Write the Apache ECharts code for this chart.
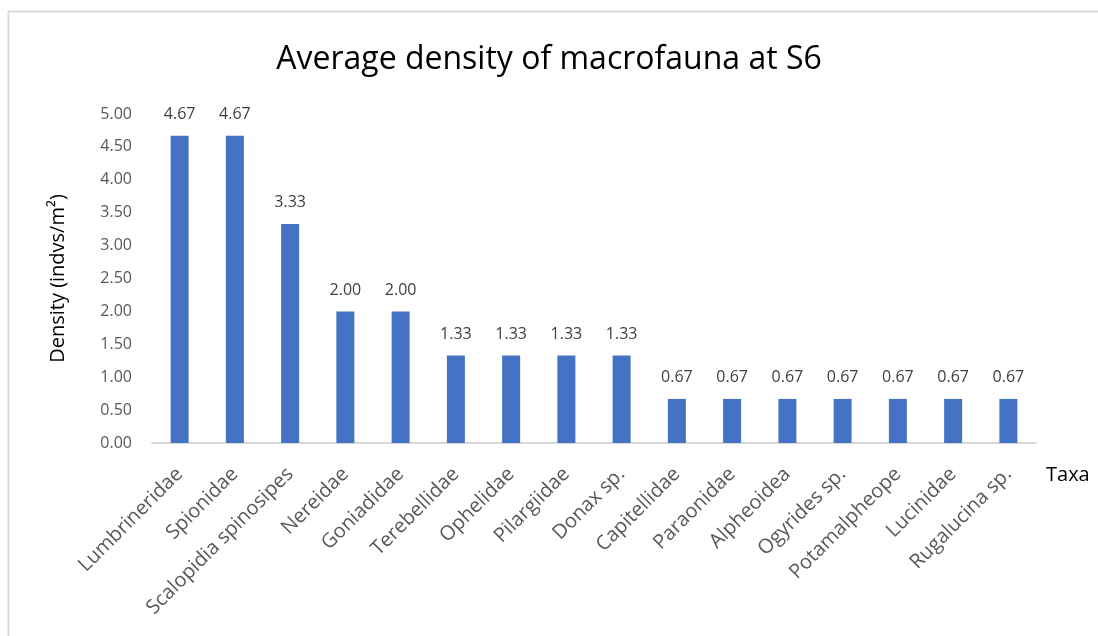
<!DOCTYPE html>
<html>
<head>
<meta charset="utf-8">
<script src="https://cdn.jsdelivr.net/npm/echarts@6/dist/echarts.min.js"></script>
<style>
  html, body { margin: 0; padding: 0; background: #fff; }
  #density { width: 1098px; height: 636px; }
</style>
</head>
<body>
<div id="density"></div>
<script>
var taxa = ['Lumbrineridae', 'Spionidae', 'Scalopidia spinosipes', 'Nereidae', 'Goniadidae',
  'Terebellidae', 'Ophelidae', 'Pilargiidae', 'Donax sp.', 'Capitellidae', 'Paraonidae',
  'Alpheoidea', 'Ogyrides sp.', 'Potamalpheope', 'Lucinidae', 'Rugalucina sp.'];
var density = [4.67, 4.67, 3.33, 2.00, 2.00, 1.33, 1.33, 1.33, 1.33,
  0.67, 0.67, 0.67, 0.67, 0.67, 0.67, 0.67];

var chart = echarts.init(document.getElementById('density'), null, {renderer: 'canvas'});

var font = '"Open Sans", "Noto Sans", sans-serif';

var option = {
  animation: false,
  backgroundColor: '#fff',
  textStyle: { fontFamily: font },
  title: {
    text: 'Average density of macrofauna at S6',
    left: 'center',
    top: 39,
    textStyle: { fontSize: 32, fontWeight: 'normal', color: '#000', fontFamily: font }
  },
  // chart frame (only top and left edges are in view)
  graphic: [{
    type: 'rect',
    shape: { x: 8.5, y: 11.5, width: 1200, height: 700 },
    style: { fill: 'none', stroke: '#d9d9d9', lineWidth: 2 },
    silent: true
  }],
  grid: { left: 152, right: 62, top: 114, bottom: 193 },
  xAxis: {
    type: 'category',
    data: taxa,
    name: 'Taxa',
    nameLocation: 'end',
    nameGap: 10,
    nameTextStyle: { fontSize: 20, color: '#000', verticalAlign: 'top', padding: [22, 0, 0, 0] },
    axisLine: { lineStyle: { color: '#d9d9d9', width: 2 } },
    axisTick: { show: false },
    axisLabel: { rotate: 45, fontSize: 20, color: '#595959', margin: 28, interval: 0 }
  },
  yAxis: {
    type: 'value',
    min: 0,
    max: 5,
    interval: 0.5,
    name: 'Density (indvs/m²)',
    nameLocation: 'middle',
    nameGap: 84,
    nameTextStyle: { fontSize: 20, color: '#000' },
    axisLine: { show: false },
    axisTick: { show: false },
    splitLine: { show: false },
    axisLabel: {
      fontSize: 16, color: '#595959', margin: 20,
      formatter: function (v) { return v.toFixed(2); }
    }
  },
  series: [{
    type: 'bar',
    data: density,
    barWidth: 18,
    itemStyle: { color: '#4472C4' },
    label: {
      show: true,
      position: 'top',
      distance: 13,
      fontSize: 16,
      color: '#404040',
      formatter: function (p) { return p.value.toFixed(2); }
    }
  }]
};

chart.setOption(option);
</script>
</body>
</html>
